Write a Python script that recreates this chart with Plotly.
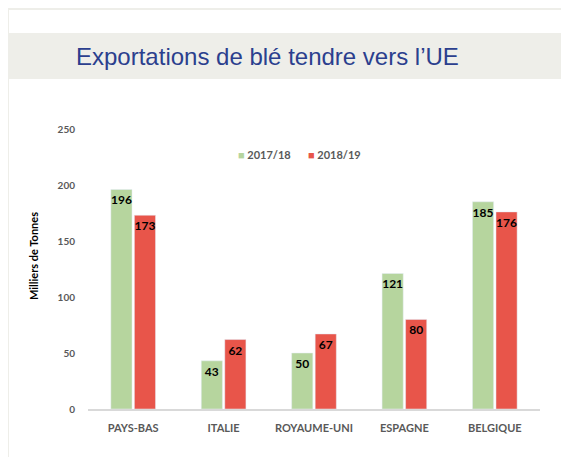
import plotly.graph_objects as go

# Data: exports of soft wheat to EU countries (thousand tonnes)
pays = ["PAYS-BAS", "ITALIE", "ROYAUME-UNI", "ESPAGNE", "BELGIQUE"]
campagne_1718 = [196, 43, 50, 121, 185]
campagne_1819 = [173, 62, 67, 80, 176]
saisons = ["2017/18", "2018/19"]

vert = "#b6d59e"
rouge = "#e8554a"
gris_texte = "#595959"
gris_fond = "#eeeee9"

label_font = dict(color="black", size=12, family="Lato", weight="bold")

fig = go.Figure()
for nom, valeurs, couleur in zip(saisons, [campagne_1718, campagne_1819], [vert, rouge]):
    fig.add_trace(go.Bar(name=nom, x=pays, y=valeurs, marker_color=couleur,
                         text=valeurs, textposition="inside", insidetextanchor="end",
                         textangle=0, constraintext="none", textfont=label_font,
                         showlegend=False))

# page is offset by the 8px body margin; plot area on page 88..540 x 129..409
OFF = 8
L, R, T, B = 88 - OFF, 569 - (540 - OFF), 129 - OFF, 457 - (409 - OFF)
W, H = 569 - L - R, 457 - T - B

def px(x):  # page pixel -> paper x
    return (x - OFF - L) / W

def py(y):  # page pixel -> paper y
    return (457 - B - (y - OFF)) / H

# slide background: grey left strip, top strip and title band
fig.add_shape(type="rect", xref="paper", yref="paper", x0=px(0), x1=px(9), y0=py(470), y1=py(0),
              fillcolor=gris_fond, line_width=0, layer="below")
fig.add_shape(type="rect", xref="paper", yref="paper", x0=px(0), x1=px(580), y0=py(10), y1=py(0),
              fillcolor=gris_fond, line_width=0, layer="below")
fig.add_shape(type="rect", xref="paper", yref="paper", x0=px(0), x1=px(580), y0=py(79), y1=py(33),
              fillcolor=gris_fond, line_width=0, layer="below")

fig.add_annotation(text="Exportations de blé tendre vers l’UE", xref="paper", yref="paper",
                   x=px(267), y=py(56), xanchor="center", yanchor="middle", showarrow=False,
                   font=dict(family="Liberation Sans Narrow, Liberation Sans", size=24, color="#2b3f8e"))

# compact legend like the Excel one
for nom, couleur, x_leg in zip(saisons, [vert, rouge], [236, 306]):
    fig.add_annotation(text=f"<span style='color:{couleur};font-size:11px'>■</span> {nom}",
                       xref="paper", yref="paper", x=px(x_leg), y=py(154),
                       xanchor="left", yanchor="middle", showarrow=False,
                       font=dict(size=11, family="Lato", weight="bold", color=gris_texte))

# y axis title
fig.add_annotation(text="Milliers de Tonnes", xref="paper", yref="paper", x=px(33), y=py(256),
                   xanchor="center", yanchor="middle", textangle=-90, showarrow=False,
                   font=dict(size=11, family="Lato", weight="bold", color="black"))

fig.update_layout(
    width=569, height=457,
    margin=dict(l=L, r=R, t=T, b=B, autoexpand=False),
    paper_bgcolor="white", plot_bgcolor="white",
    barmode="group", bargap=0.48, bargroupgap=0.1,
    font=dict(family="Lato", color=gris_texte),
    uniformtext=dict(minsize=12, mode="show"),
)
fig.update_xaxes(showline=True, linecolor="#d9d9d9", linewidth=2, ticks="",
                 ticklabelstandoff=8,
                 tickfont=dict(size=11, family="Lato", weight="bold", color=gris_texte))
fig.update_yaxes(range=[0, 250], dtick=50, showgrid=False, zeroline=False, showline=False,
                 tickfont=dict(size=10, family="Lato", weight="bold", color=gris_texte),
                 ticklabelstandoff=12)

fig.write_html("out.html")
